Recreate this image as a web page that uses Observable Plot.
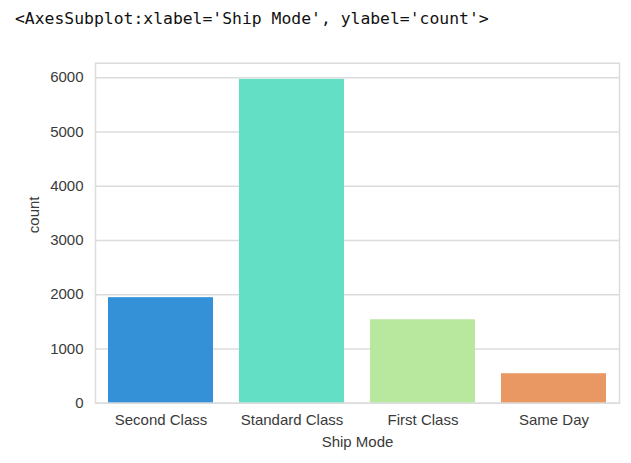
<!DOCTYPE html>
<html>
<head>
<meta charset="utf-8">
<script src="https://cdn.jsdelivr.net/npm/d3@7"></script>
<script src="https://cdn.jsdelivr.net/npm/@observablehq/plot@0.6"></script>
<style>
  html, body { margin: 0; padding: 0; background: #fff; }
  #title {
    height: 50px; box-sizing: border-box;
    padding-left: 15px; padding-top: 9px;
    font-family: "DejaVu Sans Mono", "Liberation Mono", monospace;
    font-size: 16.4px; line-height: 20px; color: #111;
    white-space: pre;
  }
</style>
</head>
<body>
<div id="title">&lt;AxesSubplot:xlabel='Ship Mode', ylabel='count'&gt;</div>
<div id="chart"></div>
<script>
const modes = ["Second Class", "Standard Class", "First Class", "Same Day"];
const counts = [1945, 5968, 1538, 543];
const colors = ["#3491d8", "#63dfc5", "#b8e89e", "#e99863"];
const yTicks = [0, 1000, 2000, 3000, 4000, 5000, 6000];
const xLabel = "Ship Mode";
const yLabel = "count";

const data = modes.map((m, i) => ({mode: m, count: counts[i]}));

const chart = Plot.plot({
  width: 631,
  height: 413,
  marginTop: 12.7,
  marginBottom: 60.3,
  marginLeft: 95,
  marginRight: 12,
  style: {fontFamily: "'Liberation Sans', Arial, sans-serif", fontSize: "15px", color: "#3a3a3a", background: "#fff"},
  x: {domain: modes, paddingInner: 0.2, paddingOuter: 0.1, label: null},
  y: {domain: [0, 6266], label: null},
  color: {domain: modes, range: colors},
  marks: [
    Plot.gridY(yTicks, {stroke: "#dcdcdc", strokeOpacity: 1, strokeWidth: 1.5}),
    Plot.barY(data, {x: "mode", y: "count", fill: "mode"}),
    Plot.frame({stroke: "#dcdcdc", strokeWidth: 1.5}),
    Plot.axisX({tickSize: 0, tickPadding: 11, label: null}),
    Plot.axisY(yTicks, {tickSize: 0, tickPadding: 12, label: null, tickFormat: d => String(d)}),
    Plot.text([xLabel], {frameAnchor: "bottom", dy: 39, lineAnchor: "middle", fill: "#3a3a3a"}),
    Plot.text([yLabel], {frameAnchor: "left", dx: -61, rotate: -90, lineAnchor: "middle", fill: "#3a3a3a"})
  ]
});
document.getElementById("chart").appendChild(chart);
</script>
</body>
</html>
